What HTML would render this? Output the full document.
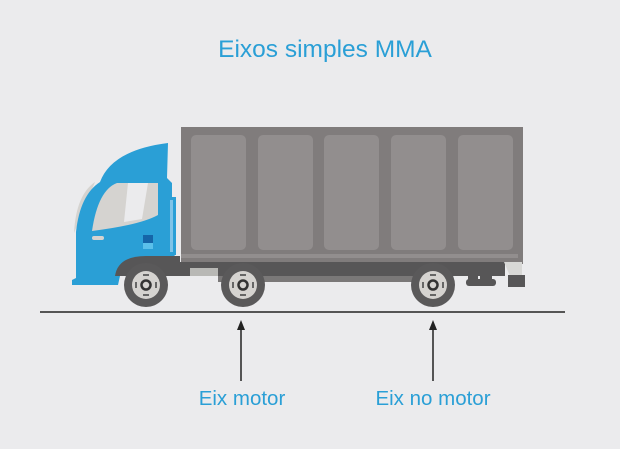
<!DOCTYPE html>
<html><head><meta charset="utf-8"><style>
body{margin:0;background:#ebebed;}
svg{display:block}
text{font-family:"Liberation Sans",sans-serif;fill:#2a9fd6}
</style></head><body>
<svg width="620" height="449" viewBox="0 0 620 449">
<rect width="620" height="449" fill="#ebebed"/>
<text x="325" y="57" font-size="24.5" text-anchor="middle">Eixos simples MMA</text>
<!-- box -->
<rect x="181" y="127" width="342" height="137" fill="#807c7c"/>
<g fill="#928e8e">
<rect x="191" y="135" width="55" height="115" rx="5"/>
<rect x="258" y="135" width="55" height="115" rx="5"/>
<rect x="324" y="135" width="55" height="115" rx="5"/>
<rect x="391" y="135" width="55" height="115" rx="5"/>
<rect x="458" y="135" width="55" height="115" rx="5"/>
</g>
<rect x="181" y="254" width="337" height="4" fill="#928e8e"/>
<!-- chassis -->
<rect x="175" y="262" width="330" height="14" fill="#575657"/>
<rect x="190" y="268" width="28" height="8" fill="#b8b8b5"/>
<rect x="218" y="276" width="210" height="6" fill="#7a7878"/>
<path d="M504 262 L522 262 L522 276 L510 276 Z" fill="#d8d8d6"/>
<rect x="508" y="275" width="17" height="12" fill="#575657"/>
<rect x="468" y="268" width="10" height="12" fill="#575657"/>
<rect x="480" y="268" width="12" height="12" fill="#575657"/>
<rect x="466" y="279" width="30" height="7" rx="3" fill="#575657"/>
<!-- cab -->
<path d="M74 233 Q76 195 95 182 Z" fill="#d5d3d0"/>
<path d="M100 285 L72 285 L72 280 L76 278 L76 232 Q80 195 100 182 Q112 150 168 143 L167 178 L172 183 L172 252 L178 260 L178 276 L120 276 L118 285 Z" fill="#2a9fd6"/>
<rect x="168" y="197" width="8" height="58" fill="#2a9fd6"/>
<rect x="170" y="200" width="3" height="52" fill="#7fc4e8"/>
<path d="M92 231 Q98 190 117 183 L158 183 L158 215 Q140 225 92 231 Z" fill="#d5d3d0"/>
<path d="M124 222 L128 183 L148 183 L142 219 Z" fill="#ebebed"/>
<rect x="92" y="236" width="12" height="4" rx="2" fill="#d5d3d0"/>
<rect x="143" y="235" width="10" height="8" fill="#1565a8"/>
<rect x="143" y="243" width="10" height="6" fill="#5bc0ea"/>
<!-- fender -->
<path d="M115 276 Q118 256 146 256 L180 256 L180 276 Z" fill="#575657"/>
<!-- wheels -->
<g id="w">
<circle cx="146" cy="285" r="22" fill="#5a595a"/>
<circle cx="146" cy="285" r="14" fill="#d5d3d0"/>
<circle cx="146" cy="285" r="4.5" fill="none" stroke="#333" stroke-width="2.5"/>
<rect x="143" y="274" width="6" height="2" fill="#666"/>
<rect x="143" y="294" width="6" height="2" fill="#666"/>
<rect x="135" y="282" width="2" height="6" fill="#666"/>
<rect x="155" y="282" width="2" height="6" fill="#666"/>
</g>
<use href="#w" x="97"/>
<use href="#w" x="287"/>
<!-- ground -->
<rect x="40" y="311" width="525" height="2" fill="#555"/>
<!-- arrows -->
<g stroke="#222" stroke-width="1.5">
<line x1="241" y1="327" x2="241" y2="381"/>
<line x1="433" y1="327" x2="433" y2="381"/>
</g>
<path d="M241 320 L237 330 L245 330 Z M433 320 L429 330 L437 330 Z" fill="#222"/>
<text x="242" y="405" font-size="20.5" text-anchor="middle">Eix motor</text>
<text x="433" y="405" font-size="20.5" text-anchor="middle">Eix no motor</text>
</svg>
</body></html>
